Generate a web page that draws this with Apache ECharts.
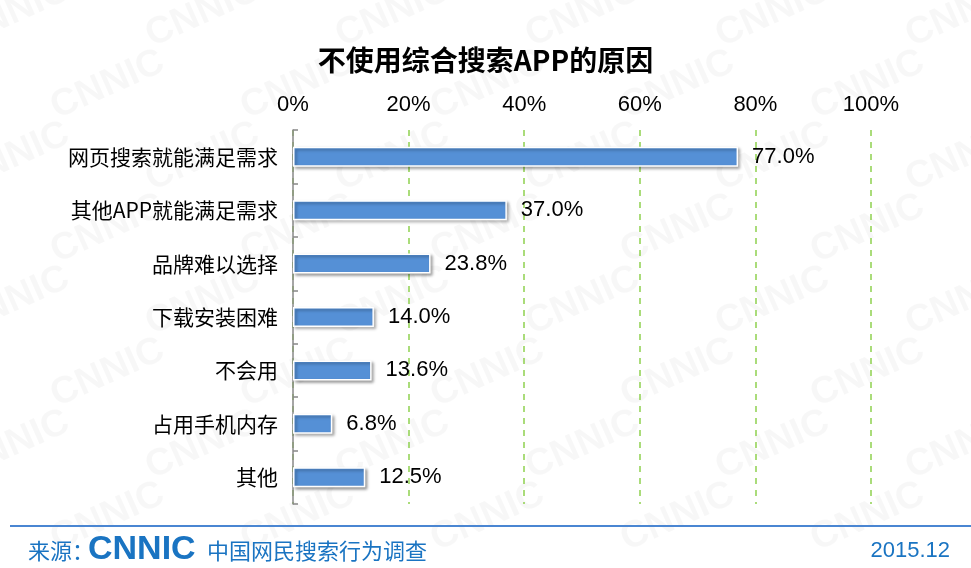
<!DOCTYPE html>
<html>
<head>
<meta charset="utf-8">
<script src="https://cdn.jsdelivr.net/npm/echarts@6/dist/echarts.min.js"></script>
<style>
  html, body { margin: 0; padding: 0; background: #fff; }
  #main { width: 971px; height: 568px; }
</style>
</head>
<body>
<div id="main"></div>
<script>
// 数据
var categories = ['网页搜索就能满足需求', '其他APP就能满足需求', '品牌难以选择', '下载安装困难', '不会用', '占用手机内存', '其他'];
var values = [77.0, 37.0, 23.8, 14.0, 13.6, 6.8, 12.5];
var tickValues = [0, 20, 40, 60, 80, 100];

var chart = echarts.init(document.getElementById('main'));

// 背景水印
var marks = [];
for (var r = 0; r < 8; r++) {
    for (var c = 0; c < 6; c++) {
        marks.push({
            type: 'text',
            x: -50 + c * 190 + (r % 2) * 95,
            y: 20 + r * 72,
            rotation: 0.42,
            z: -1,
            style: {
                text: 'CNNIC',
                font: 'bold 38px Arial, "Liberation Sans"',
                fill: 'rgba(0,0,0,0.03)'
            }
        });
    }
}

var option = {
    backgroundColor: '#fff',
    textStyle: { fontFamily: 'Arial, "Liberation Sans", "Noto Sans CJK SC"' },
    title: {
        text: '不使用综合搜索APP的原因',
        left: 'center',
        top: 41,
        textStyle: { fontSize: 28, fontWeight: 'bold', color: '#000', fontFamily: '"Noto Sans CJK SC"' }
    },
    grid: { left: 293, right: 100, top: 130, bottom: 64 },
    xAxis: {
        type: 'value',
        position: 'top',
        min: 0,
        max: 100,
        interval: 20,
        axisLine: { show: false },
        axisTick: { show: false },
        axisLabel: {
            fontSize: 22,
            color: '#000',
            margin: 14,
            formatter: function (v) { return tickValues.indexOf(v) >= 0 ? v + '%' : ''; }
        },
        splitLine: {
            show: true,
            lineStyle: { color: '#8fd14f', type: [6, 6], width: 1.5 }
        }
    },
    yAxis: {
        type: 'category',
        inverse: true,
        data: categories,
        axisLine: { show: true, lineStyle: { color: '#888', width: 1.5 } },
        axisTick: { show: true, inside: true, length: 5, lineStyle: { color: '#888', width: 1.5 } },
        axisLabel: { fontSize: 21, color: '#000', margin: 15, fontFamily: '"Noto Sans CJK SC"' }
    },
    series: [{
        type: 'bar',
        data: values,
        barWidth: 20,
        itemStyle: {
            color: '#5590d6',
            borderColor: '#fff',
            borderWidth: 1.5,
            shadowColor: 'rgba(0,0,0,0.35)',
            shadowBlur: 3,
            shadowOffsetX: 2,
            shadowOffsetY: 2
        },
        label: {
            show: true,
            position: 'right',
            distance: 14,
            fontSize: 22,
            color: '#000',
            formatter: function (p) { return p.value.toFixed(1) + '%'; }
        }
    }],
    graphic: marks.concat([
        {
            type: 'rect',
            shape: { x: 10, y: 525, width: 961, height: 2 },
            style: { fill: '#4a86d2' }
        },
        {
            type: 'text',
            x: 28, y: 551,
            style: { text: '来源：', font: '22px "Noto Sans CJK SC"', fill: '#1a74c2', verticalAlign: 'middle' }
        },
        {
            type: 'text',
            x: 88, y: 550,
            style: { text: 'CNNIC', font: 'bold 34px Arial, "Liberation Sans"', fill: '#1a74c2', verticalAlign: 'middle' }
        },
        {
            type: 'text',
            x: 207, y: 551,
            style: { text: '中国网民搜索行为调查', font: '22px "Noto Sans CJK SC"', fill: '#1a74c2', verticalAlign: 'middle' }
        },
        {
            type: 'text',
            x: 950, y: 551,
            style: { text: '2015.12', font: '22px Arial, "Liberation Sans"', fill: '#1a74c2', align: 'right', verticalAlign: 'middle' }
        }
    ])
};

chart.setOption(option);
</script>
</body>
</html>
